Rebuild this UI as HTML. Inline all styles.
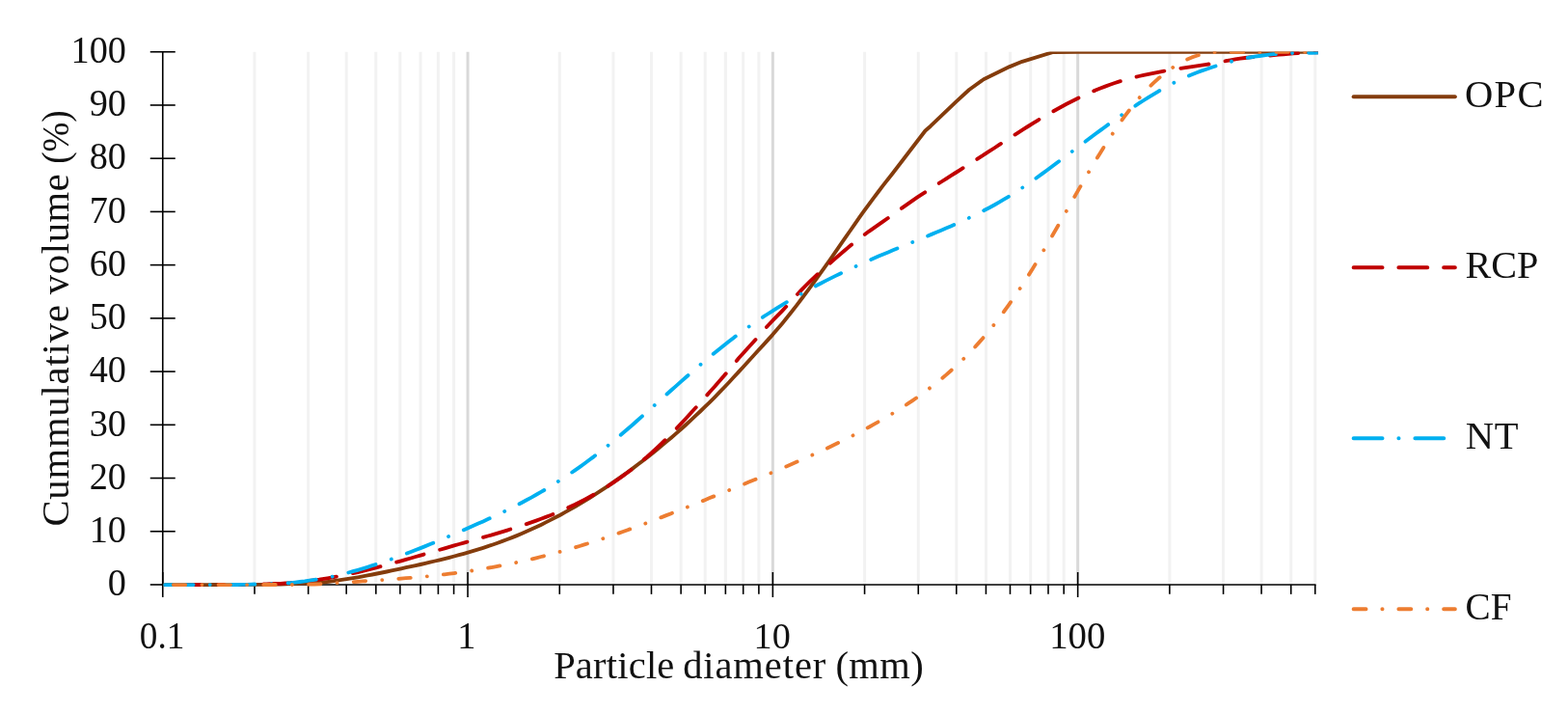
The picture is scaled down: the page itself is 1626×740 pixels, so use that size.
<!DOCTYPE html>
<html lang="en"><head><meta charset="utf-8"><title>Particle size distribution</title>
<style>html,body{margin:0;padding:0;background:#fff}body{width:1626px;height:740px;overflow:hidden}svg{display:block}</style>
</head><body>
<svg width="1626" height="740" viewBox="0 0 1626 740" role="img" aria-label="Cumulative particle size distribution of OPC, RCP, NT and CF">
<rect width="1626" height="740" fill="#fff"/>
<defs><clipPath id="plot"><rect x="168.9" y="53.4" width="1198" height="560"/></clipPath></defs>
<g stroke="#f2f2f2" stroke-width="3">
<line x1="263.98" y1="53.76" x2="263.98" y2="605.97"/>
<line x1="319.67" y1="53.76" x2="319.67" y2="605.97"/>
<line x1="359.19" y1="53.76" x2="359.19" y2="605.97"/>
<line x1="389.84" y1="53.76" x2="389.84" y2="605.97"/>
<line x1="414.89" y1="53.76" x2="414.89" y2="605.97"/>
<line x1="436.06" y1="53.76" x2="436.06" y2="605.97"/>
<line x1="454.41" y1="53.76" x2="454.41" y2="605.97"/>
<line x1="470.59" y1="53.76" x2="470.59" y2="605.97"/>
<line x1="580.28" y1="53.76" x2="580.28" y2="605.97"/>
<line x1="635.97" y1="53.76" x2="635.97" y2="605.97"/>
<line x1="675.49" y1="53.76" x2="675.49" y2="605.97"/>
<line x1="706.14" y1="53.76" x2="706.14" y2="605.97"/>
<line x1="731.19" y1="53.76" x2="731.19" y2="605.97"/>
<line x1="752.36" y1="53.76" x2="752.36" y2="605.97"/>
<line x1="770.71" y1="53.76" x2="770.71" y2="605.97"/>
<line x1="786.89" y1="53.76" x2="786.89" y2="605.97"/>
<line x1="896.58" y1="53.76" x2="896.58" y2="605.97"/>
<line x1="952.27" y1="53.76" x2="952.27" y2="605.97"/>
<line x1="991.79" y1="53.76" x2="991.79" y2="605.97"/>
<line x1="1022.44" y1="53.76" x2="1022.44" y2="605.97"/>
<line x1="1047.49" y1="53.76" x2="1047.49" y2="605.97"/>
<line x1="1068.66" y1="53.76" x2="1068.66" y2="605.97"/>
<line x1="1087.01" y1="53.76" x2="1087.01" y2="605.97"/>
<line x1="1103.19" y1="53.76" x2="1103.19" y2="605.97"/>
<line x1="1212.88" y1="53.76" x2="1212.88" y2="605.97"/>
<line x1="1268.57" y1="53.76" x2="1268.57" y2="605.97"/>
<line x1="1308.09" y1="53.76" x2="1308.09" y2="605.97"/>
<line x1="1338.74" y1="53.76" x2="1338.74" y2="605.97"/>
<line x1="1363.79" y1="53.76" x2="1363.79" y2="605.97"/>
</g>
<g stroke="#d9d9d9" stroke-width="3">
<line x1="485.06" y1="53.76" x2="485.06" y2="605.97"/>
<line x1="801.36" y1="53.76" x2="801.36" y2="605.97"/>
<line x1="1117.66" y1="53.76" x2="1117.66" y2="605.97"/>
</g>
<g stroke="#000" stroke-width="1.6" fill="none">
<line x1="168.76" y1="53.01" x2="168.76" y2="606.72"/>
<line x1="168.01" y1="605.97" x2="1364.54" y2="605.97"/>
<line x1="155.76" y1="605.97" x2="181.76" y2="605.97"/>
<line x1="155.76" y1="550.75" x2="181.76" y2="550.75"/>
<line x1="155.76" y1="495.53" x2="181.76" y2="495.53"/>
<line x1="155.76" y1="440.31" x2="181.76" y2="440.31"/>
<line x1="155.76" y1="385.09" x2="181.76" y2="385.09"/>
<line x1="155.76" y1="329.87" x2="181.76" y2="329.87"/>
<line x1="155.76" y1="274.64" x2="181.76" y2="274.64"/>
<line x1="155.76" y1="219.42" x2="181.76" y2="219.42"/>
<line x1="155.76" y1="164.20" x2="181.76" y2="164.20"/>
<line x1="155.76" y1="108.98" x2="181.76" y2="108.98"/>
<line x1="155.76" y1="53.76" x2="181.76" y2="53.76"/>
<line x1="168.76" y1="592.97" x2="168.76" y2="618.97"/>
<line x1="263.98" y1="605.97" x2="263.98" y2="615.87"/>
<line x1="319.67" y1="605.97" x2="319.67" y2="615.87"/>
<line x1="359.19" y1="605.97" x2="359.19" y2="615.87"/>
<line x1="389.84" y1="605.97" x2="389.84" y2="615.87"/>
<line x1="414.89" y1="605.97" x2="414.89" y2="615.87"/>
<line x1="436.06" y1="605.97" x2="436.06" y2="615.87"/>
<line x1="454.41" y1="605.97" x2="454.41" y2="615.87"/>
<line x1="470.59" y1="605.97" x2="470.59" y2="615.87"/>
<line x1="485.06" y1="592.97" x2="485.06" y2="618.97"/>
<line x1="580.28" y1="605.97" x2="580.28" y2="615.87"/>
<line x1="635.97" y1="605.97" x2="635.97" y2="615.87"/>
<line x1="675.49" y1="605.97" x2="675.49" y2="615.87"/>
<line x1="706.14" y1="605.97" x2="706.14" y2="615.87"/>
<line x1="731.19" y1="605.97" x2="731.19" y2="615.87"/>
<line x1="752.36" y1="605.97" x2="752.36" y2="615.87"/>
<line x1="770.71" y1="605.97" x2="770.71" y2="615.87"/>
<line x1="786.89" y1="605.97" x2="786.89" y2="615.87"/>
<line x1="801.36" y1="592.97" x2="801.36" y2="618.97"/>
<line x1="896.58" y1="605.97" x2="896.58" y2="615.87"/>
<line x1="952.27" y1="605.97" x2="952.27" y2="615.87"/>
<line x1="991.79" y1="605.97" x2="991.79" y2="615.87"/>
<line x1="1022.44" y1="605.97" x2="1022.44" y2="615.87"/>
<line x1="1047.49" y1="605.97" x2="1047.49" y2="615.87"/>
<line x1="1068.66" y1="605.97" x2="1068.66" y2="615.87"/>
<line x1="1087.01" y1="605.97" x2="1087.01" y2="615.87"/>
<line x1="1103.19" y1="605.97" x2="1103.19" y2="615.87"/>
<line x1="1117.66" y1="592.97" x2="1117.66" y2="618.97"/>
<line x1="1212.88" y1="605.97" x2="1212.88" y2="615.87"/>
<line x1="1268.57" y1="605.97" x2="1268.57" y2="615.87"/>
<line x1="1308.09" y1="605.97" x2="1308.09" y2="615.87"/>
<line x1="1338.74" y1="605.97" x2="1338.74" y2="615.87"/>
<line x1="1363.79" y1="605.97" x2="1363.79" y2="615.87"/>
</g>
<g clip-path="url(#plot)" fill="none" stroke-linecap="round" stroke-linejoin="round" stroke-width="3.85">
<path d="M171.0,606.1 L176.0,606.1 L181.0,606.1 L186.0,606.1 L191.0,606.1 L196.0,606.1 L201.0,606.1 L206.0,606.1 L211.0,606.1 L216.0,606.1 L221.0,606.0 L226.0,606.0 L231.0,606.0 L236.0,606.0 L241.0,606.0 L246.0,606.0 L251.0,606.0 L256.0,605.9 L261.0,605.9 L266.0,605.9 L271.0,605.8 L276.0,605.8 L281.0,605.7 L286.0,605.6 L291.0,605.5 L296.0,605.3 L301.0,605.2 L306.0,605.0 L311.0,604.8 L316.0,604.7 L321.0,604.5 L326.0,604.2 L331.0,603.8 L336.0,603.4 L341.0,602.8 L346.0,602.1 L351.0,601.4 L356.0,600.7 L361.0,599.9 L366.0,599.1 L371.0,598.3 L376.0,597.4 L381.0,596.4 L386.0,595.5 L391.0,594.5 L396.0,593.5 L401.0,592.5 L406.0,591.4 L411.0,590.4 L416.0,589.3 L421.0,588.2 L426.0,587.2 L431.0,586.1 L436.0,585.0 L441.0,583.8 L446.0,582.7 L451.0,581.5 L456.0,580.3 L461.0,579.1 L466.0,577.8 L471.0,576.5 L476.0,575.2 L481.0,573.8 L486.0,572.4 L491.0,570.9 L496.0,569.4 L501.0,567.8 L506.0,566.2 L511.0,564.5 L516.0,562.7 L521.0,560.9 L526.0,559.0 L531.0,557.1 L536.0,555.1 L541.0,553.0 L546.0,550.8 L551.0,548.6 L556.0,546.3 L561.0,543.9 L566.0,541.4 L571.0,538.9 L576.0,536.3 L581.0,533.7 L586.0,530.9 L591.0,528.1 L596.0,525.3 L601.0,522.3 L606.0,519.3 L611.0,516.3 L616.0,513.1 L621.0,509.9 L626.0,506.6 L631.0,503.3 L636.0,499.9 L641.0,496.4 L646.0,492.9 L651.0,489.3 L656.0,485.6 L661.0,481.8 L666.0,478.0 L671.0,474.2 L676.0,470.2 L681.0,466.2 L686.0,462.1 L691.0,457.9 L696.0,453.7 L701.0,449.4 L706.0,445.0 L711.0,440.5 L716.0,435.9 L721.0,431.2 L726.0,426.5 L731.0,421.7 L736.0,416.8 L741.0,411.8 L746.0,406.7 L751.0,401.5 L756.0,396.2 L761.0,390.8 L766.0,385.4 L771.0,380.0 L776.0,374.5 L781.0,369.0 L786.0,363.5 L791.0,358.1 L796.0,352.6 L801.0,347.1 L806.0,341.3 L811.0,335.4 L816.0,329.3 L821.0,323.0 L826.0,316.6 L831.0,310.0 L836.0,303.4 L841.0,296.7 L846.0,289.8 L851.0,282.9 L856.0,275.9 L861.0,268.8 L866.0,261.6 L871.0,254.4 L876.0,247.2 L881.0,240.0 L886.0,232.8 L891.0,225.7 L896.0,218.7 L901.0,211.8 L906.0,205.1 L911.0,198.5 L916.0,191.9 L925.4,180.0 L959.5,135.5 L965.0,130.7 L991.5,105.3 L1005.0,93.0 L1020.0,82.3 L1047.0,69.1 L1060.0,63.8 L1092.2,54.0 L1117.6,53.8 L1370.0,53.8" stroke="#843c0c"/>
<path d="M171.0,606.1 L176.0,606.1 L181.0,606.1 L186.0,606.1 L191.0,606.1 L196.0,606.1 L201.0,606.1 L206.0,606.1 L211.0,606.1 L216.0,606.1 L221.0,606.0 L226.0,606.0 L231.0,606.0 L236.0,606.0 L241.0,606.0 L246.0,606.0 L251.0,605.9 L256.0,605.8 L261.0,605.7 L266.0,605.6 L271.0,605.5 L276.0,605.4 L281.0,605.2 L286.0,605.0 L291.0,604.8 L296.0,604.5 L301.0,604.2 L306.0,603.7 L311.0,603.2 L316.0,602.6 L321.0,602.0 L326.0,601.3 L331.0,600.7 L336.0,599.9 L341.0,599.1 L346.0,598.2 L351.0,597.2 L356.0,596.3 L361.0,595.2 L366.0,594.1 L371.0,593.0 L376.0,591.8 L381.0,590.6 L386.0,589.4 L391.0,588.1 L396.0,586.8 L401.0,585.5 L406.0,584.1 L411.0,582.7 L416.0,581.3 L421.0,579.9 L426.0,578.5 L431.0,577.0 L436.0,575.6 L441.0,574.1 L446.0,572.7 L451.0,571.2 L456.0,569.8 L461.0,568.3 L466.0,566.9 L471.0,565.4 L476.0,564.0 L481.0,562.6 L486.0,561.2 L491.0,559.8 L496.0,558.4 L501.0,556.9 L506.0,555.5 L511.0,554.1 L516.0,552.6 L521.0,551.1 L526.0,549.6 L531.0,548.0 L536.0,546.4 L541.0,544.8 L546.0,543.1 L551.0,541.4 L556.0,539.6 L561.0,537.8 L566.0,535.9 L571.0,534.0 L576.0,531.9 L581.0,529.8 L586.0,527.6 L591.0,525.3 L596.0,523.0 L601.0,520.5 L606.0,517.9 L611.0,515.2 L616.0,512.4 L621.0,509.5 L626.0,506.5 L631.0,503.4 L636.0,500.1 L641.0,496.7 L646.0,493.1 L651.0,489.5 L656.0,485.7 L661.0,481.7 L666.0,477.6 L671.0,473.4 L676.0,469.0 L681.0,464.4 L686.0,459.7 L691.0,454.8 L696.0,449.8 L701.0,444.6 L706.0,439.4 L711.0,434.0 L716.0,428.5 L721.0,423.0 L726.0,417.5 L731.0,411.9 L736.0,406.3 L741.0,400.8 L746.0,395.1 L751.0,389.3 L756.0,383.2 L761.0,377.2 L766.0,371.3 L771.0,365.7 L776.0,360.3 L781.0,354.8 L786.0,349.2 L791.0,343.4 L796.0,337.8 L801.0,332.5 L806.0,327.4 L811.0,322.3 L816.0,317.0 L821.0,311.5 L826.0,305.9 L831.0,300.6 L836.0,295.5 L841.0,290.6 L846.0,285.9 L851.0,281.4 L856.0,276.9 L861.0,272.5 L866.0,268.1 L871.0,263.8 L876.0,259.5 L881.0,255.3 L886.0,251.2 L891.0,247.3 L896.0,243.5 L901.0,239.8 L906.0,236.3 L911.0,232.8 L916.0,229.4 L921.0,225.9 L926.0,222.3 L931.0,218.7 L936.0,215.1 L941.0,211.6 L946.0,208.1 L951.0,204.7 L956.0,201.4 L961.0,198.1 L966.0,194.9 L971.0,191.7 L976.0,188.5 L981.0,185.3 L986.0,182.1 L991.0,179.0 L996.0,175.8 L1001.0,172.7 L1006.0,169.5 L1011.0,166.4 L1016.0,163.2 L1021.0,159.9 L1026.0,156.7 L1031.0,153.5 L1036.0,150.2 L1041.0,147.0 L1046.0,143.7 L1051.0,140.5 L1056.0,137.3 L1061.0,134.1 L1066.0,131.0 L1071.0,127.9 L1076.0,124.8 L1081.0,121.8 L1086.0,118.9 L1091.0,116.0 L1096.0,113.2 L1101.0,110.5 L1106.0,107.8 L1111.0,105.2 L1116.0,102.7 L1121.0,100.3 L1126.0,98.0 L1131.0,95.7 L1136.0,93.6 L1141.0,91.5 L1146.0,89.6 L1151.0,87.7 L1156.0,86.0 L1161.0,84.4 L1166.0,82.9 L1171.0,81.5 L1176.0,80.2 L1181.0,79.0 L1186.0,77.8 L1191.0,76.8 L1196.0,75.8 L1201.0,74.8 L1206.0,73.9 L1211.0,73.0 L1216.0,72.2 L1221.0,71.3 L1226.0,70.6 L1231.0,69.8 L1236.0,69.1 L1241.0,68.4 L1246.0,67.7 L1251.0,66.9 L1256.0,66.1 L1261.0,65.1 L1266.0,64.1 L1271.0,63.2 L1276.0,62.3 L1281.0,61.4 L1286.0,60.6 L1291.0,60.0 L1296.0,59.4 L1301.0,58.9 L1306.0,58.4 L1311.0,58.0 L1316.0,57.6 L1321.0,57.2 L1326.0,56.7 L1331.0,56.3 L1336.0,55.8 L1341.0,55.4 L1346.0,55.1 L1351.0,54.9 L1356.0,54.7 L1361.0,54.5 L1366.0,54.4" stroke="#c00000" stroke-dasharray="29.45 17.30" stroke-dashoffset="-8.75"/>
<path d="M171.0,606.1 L176.0,606.1 L181.0,606.1 L186.0,606.1 L191.0,606.1 L196.0,606.1 L201.0,606.1 L206.0,606.1 L211.0,606.1 L216.0,606.1 L221.0,606.0 L226.0,606.0 L231.0,606.0 L236.0,606.0 L241.0,606.0 L246.0,606.0 L251.0,605.9 L256.0,605.8 L261.0,605.6 L266.0,605.5 L271.0,605.4 L276.0,605.3 L281.0,605.1 L286.0,604.9 L291.0,604.7 L296.0,604.5 L301.0,604.1 L306.0,603.6 L311.0,603.0 L316.0,602.4 L321.0,601.6 L326.0,600.9 L331.0,600.2 L336.0,599.4 L341.0,598.4 L346.0,597.3 L351.0,596.1 L356.0,594.9 L361.0,593.6 L366.0,592.2 L371.0,590.8 L376.0,589.3 L381.0,587.8 L386.0,586.2 L391.0,584.6 L396.0,582.9 L401.0,581.2 L406.0,579.4 L411.0,577.6 L416.0,575.8 L421.0,573.9 L426.0,572.0 L431.0,570.0 L436.0,568.1 L441.0,566.1 L446.0,564.0 L451.0,562.0 L456.0,559.9 L461.0,557.8 L466.0,555.7 L471.0,553.5 L476.0,551.4 L481.0,549.2 L486.0,547.0 L491.0,544.8 L496.0,542.6 L501.0,540.4 L506.0,538.1 L511.0,535.8 L516.0,533.4 L521.0,531.0 L526.0,528.6 L531.0,526.1 L536.0,523.6 L541.0,521.0 L546.0,518.3 L551.0,515.6 L556.0,512.8 L561.0,509.9 L566.0,507.0 L571.0,503.9 L576.0,500.8 L581.0,497.6 L586.0,494.4 L591.0,491.0 L596.0,487.6 L601.0,484.1 L606.0,480.5 L611.0,476.8 L616.0,473.1 L621.0,469.2 L626.0,465.3 L631.0,461.3 L636.0,457.2 L641.0,453.0 L646.0,448.8 L651.0,444.5 L656.0,440.2 L661.0,435.8 L666.0,431.3 L671.0,426.9 L676.0,422.4 L681.0,417.9 L686.0,413.5 L691.0,409.0 L696.0,404.5 L701.0,400.1 L706.0,395.6 L711.0,391.2 L716.0,386.9 L721.0,382.5 L726.0,378.3 L731.0,374.0 L736.0,369.8 L741.0,365.7 L746.0,361.7 L751.0,357.7 L756.0,353.8 L761.0,349.9 L766.0,346.2 L771.0,342.5 L776.0,339.0 L781.0,335.5 L786.0,332.1 L791.0,328.7 L796.0,325.5 L801.0,322.3 L806.0,319.2 L811.0,316.1 L816.0,313.1 L821.0,310.2 L826.0,307.3 L831.0,304.5 L836.0,301.7 L841.0,299.0 L846.0,296.3 L851.0,293.7 L856.0,291.1 L861.0,288.6 L866.0,286.1 L871.0,283.7 L876.0,281.3 L881.0,279.0 L886.0,276.6 L891.0,274.4 L896.0,272.1 L901.0,269.9 L906.0,267.8 L911.0,265.6 L916.0,263.5 L921.0,261.4 L926.0,259.3 L931.0,257.3 L936.0,255.2 L941.0,253.1 L946.0,251.1 L951.0,249.1 L956.0,247.0 L961.0,244.9 L966.0,242.9 L971.0,240.8 L976.0,238.7 L981.0,236.6 L986.0,234.4 L991.0,232.2 L996.0,230.0 L1001.0,227.7 L1006.0,225.3 L1011.0,222.9 L1016.0,220.4 L1021.0,217.8 L1026.0,215.2 L1031.0,212.5 L1036.0,209.6 L1041.0,206.7 L1046.0,203.7 L1051.0,200.6 L1056.0,197.3 L1061.0,194.0 L1066.0,190.6 L1071.0,187.1 L1076.0,183.5 L1081.0,179.9 L1086.0,176.2 L1091.0,172.5 L1096.0,168.8 L1101.0,165.1 L1106.0,161.3 L1111.0,157.5 L1116.0,153.8 L1121.0,150.0 L1126.0,146.3 L1131.0,142.5 L1136.0,138.8 L1141.0,135.1 L1146.0,131.5 L1151.0,127.8 L1156.0,124.3 L1161.0,120.7 L1166.0,117.2 L1171.0,113.8 L1176.0,110.5 L1181.0,107.2 L1186.0,104.0 L1191.0,100.8 L1196.0,97.8 L1201.0,94.8 L1206.0,91.9 L1211.0,89.2 L1216.0,86.5 L1221.0,83.9 L1226.0,81.5 L1231.0,79.3 L1236.0,77.2 L1241.0,75.2 L1246.0,73.4 L1251.0,71.7 L1256.0,70.0 L1261.0,68.4 L1266.0,66.8 L1271.0,65.4 L1276.0,64.0 L1281.0,62.7 L1286.0,61.5 L1291.0,60.4 L1296.0,59.5 L1301.0,58.7 L1306.0,58.0 L1311.0,57.3 L1316.0,56.7 L1321.0,56.2 L1326.0,55.8 L1331.0,55.4 L1336.0,55.2 L1341.0,55.0 L1346.0,54.9 L1351.0,54.8 L1356.0,54.8 L1361.0,54.8 L1366.0,54.7" stroke="#00b0f0" stroke-dasharray="29.45 17.15 0.01 17.14" stroke-dashoffset="-0.15"/>
<path d="M171.0,606.1 L176.0,606.1 L181.0,606.1 L186.0,606.1 L191.0,606.1 L196.0,606.1 L201.0,606.1 L206.0,606.1 L211.0,606.1 L216.0,606.1 L221.0,606.1 L226.0,606.1 L231.0,606.1 L236.0,606.1 L241.0,606.1 L246.0,606.1 L251.0,606.1 L256.0,606.1 L261.0,606.1 L266.0,606.1 L271.0,606.0 L276.0,606.0 L281.0,606.0 L286.0,606.0 L291.0,606.0 L296.0,606.0 L301.0,606.0 L306.0,606.0 L311.0,605.9 L316.0,605.8 L321.0,605.7 L326.0,605.5 L331.0,605.3 L336.0,605.0 L341.0,604.6 L346.0,604.3 L351.0,604.0 L356.0,603.7 L361.0,603.4 L366.0,603.1 L371.0,602.8 L376.0,602.4 L381.0,602.1 L386.0,601.8 L391.0,601.4 L396.0,601.1 L401.0,600.7 L406.0,600.4 L411.0,600.0 L416.0,599.6 L421.0,599.2 L426.0,598.8 L431.0,598.4 L436.0,597.9 L441.0,597.5 L446.0,597.0 L451.0,596.5 L456.0,595.9 L461.0,595.3 L466.0,594.7 L471.0,594.1 L476.0,593.4 L481.0,592.7 L486.0,592.0 L491.0,591.2 L496.0,590.4 L501.0,589.6 L506.0,588.7 L511.0,587.8 L516.0,586.9 L521.0,585.9 L526.0,584.9 L531.0,583.9 L536.0,582.9 L541.0,581.8 L546.0,580.6 L551.0,579.5 L556.0,578.3 L561.0,577.0 L566.0,575.8 L571.0,574.5 L576.0,573.1 L581.0,571.8 L586.0,570.4 L591.0,568.9 L596.0,567.5 L601.0,566.0 L606.0,564.4 L611.0,562.9 L616.0,561.3 L621.0,559.6 L626.0,558.0 L631.0,556.3 L636.0,554.6 L641.0,552.8 L646.0,551.0 L651.0,549.2 L656.0,547.4 L661.0,545.6 L666.0,543.7 L671.0,541.8 L676.0,539.9 L681.0,538.0 L686.0,536.1 L691.0,534.1 L696.0,532.2 L701.0,530.2 L706.0,528.2 L711.0,526.2 L716.0,524.2 L721.0,522.2 L726.0,520.2 L731.0,518.2 L736.0,516.1 L741.0,514.1 L746.0,512.0 L751.0,510.0 L756.0,508.0 L761.0,505.9 L766.0,503.9 L771.0,501.9 L776.0,499.8 L781.0,497.8 L786.0,495.7 L791.0,493.7 L796.0,491.6 L801.0,489.5 L806.0,487.4 L811.0,485.3 L816.0,483.2 L821.0,481.0 L826.0,478.8 L831.0,476.6 L836.0,474.4 L841.0,472.2 L846.0,469.9 L851.0,467.6 L856.0,465.3 L861.0,462.9 L866.0,460.5 L871.0,458.1 L876.0,455.7 L881.0,453.2 L886.0,450.6 L891.0,448.0 L896.0,445.4 L901.0,442.7 L906.0,439.9 L911.0,437.1 L916.0,434.3 L921.0,431.3 L926.0,428.3 L931.0,425.2 L936.0,422.0 L941.0,418.7 L946.0,415.3 L951.0,411.9 L956.0,408.3 L961.0,404.6 L966.0,400.8 L971.0,396.8 L976.0,392.8 L981.0,388.6 L986.0,384.2 L991.0,379.7 L996.0,375.0 L1001.0,370.1 L1006.0,365.0 L1011.0,359.7 L1016.0,354.1 L1021.0,348.4 L1026.0,342.4 L1031.0,336.2 L1036.0,329.7 L1041.0,323.0 L1046.0,316.1 L1051.0,309.0 L1056.0,301.6 L1061.0,294.0 L1066.0,286.2 L1071.0,278.2 L1076.0,270.0 L1081.0,261.7 L1086.0,253.2 L1091.0,244.7 L1096.0,236.0 L1101.0,227.2 L1106.0,218.5 L1111.0,209.7 L1116.0,200.9 L1121.0,192.2 L1126.0,183.5 L1131.0,175.0 L1136.0,166.6 L1141.0,158.4 L1146.0,150.4 L1151.0,142.7 L1156.0,135.2 L1161.0,127.9 L1166.0,120.9 L1171.0,114.3 L1176.0,107.9 L1181.0,101.9 L1186.0,96.3 L1191.0,91.1 L1196.0,86.2 L1201.0,81.6 L1206.0,77.5 L1211.0,73.6 L1216.0,70.1 L1221.0,66.9 L1226.0,64.1 L1231.0,61.5 L1236.0,59.4 L1241.0,57.7 L1246.0,56.2 L1251.0,55.0 L1256.0,54.2 L1261.0,54.0 L1266.0,53.9 L1271.0,53.8 L1276.0,53.8 L1281.0,53.8 L1286.0,53.8 L1291.0,53.8 L1296.0,53.8 L1301.0,53.8 L1306.0,53.8 L1311.0,53.8 L1316.0,53.8 L1321.0,53.8 L1326.0,53.8 L1331.0,53.8 L1336.0,53.8 L1341.0,53.8 L1346.0,53.8 L1351.0,53.8 L1356.0,53.8 L1361.0,53.8 L1366.0,53.8" stroke="#ed7d31" stroke-dasharray="12.45 17.15 0.01 17.14" stroke-dashoffset="-8.8"/>
</g>
<g font-family='"Liberation Serif", serif' font-size="39" fill="#111" style="font-kerning:none">
<text transform="translate(111.75,617.17) scale(0.9800,1)">0</text>
<text transform="translate(92.64,561.95) scale(0.9800,1)">10</text>
<text transform="translate(92.64,506.73) scale(0.9800,1)">20</text>
<text transform="translate(92.64,451.51) scale(0.9800,1)">30</text>
<text transform="translate(92.64,396.29) scale(0.9800,1)">40</text>
<text transform="translate(92.64,341.06) scale(0.9800,1)">50</text>
<text transform="translate(92.64,285.84) scale(0.9800,1)">60</text>
<text transform="translate(92.64,230.62) scale(0.9800,1)">70</text>
<text transform="translate(92.64,175.40) scale(0.9800,1)">80</text>
<text transform="translate(92.64,120.18) scale(0.9800,1)">90</text>
<text transform="translate(73.53,64.96) scale(0.9800,1)">100</text>
<text transform="translate(144.78,671.90) scale(0.9550,1)">0.1</text>
<text transform="translate(474.33,671.90) scale(0.9832,1)">1</text>
<text transform="translate(781.54,671.90) scale(0.9798,1)">10</text>
<text transform="translate(1088.19,671.90) scale(0.9946,1)">100</text>
<text transform="translate(574.13,702.80) scale(1.0400,1)" letter-spacing="0.192">Particle</text>
<text transform="translate(708.13,702.80) scale(1.0400,1)" letter-spacing="0.871">diameter</text>
<text transform="translate(866.52,702.80) scale(1.0400,1)" letter-spacing="0.338">(mm)</text>
<text transform="translate(71.35,545.56) rotate(-90) scale(1.0400,1)" letter-spacing="0.843">Cummulative</text>
<text transform="translate(71.35,305.30) rotate(-90) scale(1.0400,1)" letter-spacing="0.682">volume</text>
<text transform="translate(71.35,169.83) rotate(-90) scale(0.9503,1)">(%)</text>
<text transform="translate(1519.04,110.60) scale(1.0400,1)" letter-spacing="1.250">OPC</text>
<text transform="translate(1519.54,287.60) scale(1.0305,1)">RCP</text>
<text transform="translate(1519.73,464.60) scale(1.0400,1)" letter-spacing="0.649">NT</text>
<text transform="translate(1519.59,641.70) scale(1.0046,1)">CF</text>
</g>
<g fill="none" stroke-linecap="round" stroke-width="4.10">
<line x1="1403.7" y1="100.2" x2="1508.8" y2="100.2" stroke="#843c0c"/>
<line x1="1403.7" y1="277.2" x2="1508.8" y2="277.2" stroke="#c00000" stroke-dasharray="29.75 17.00"/>
<line x1="1403.7" y1="454.2" x2="1508.8" y2="454.2" stroke="#00b0f0" stroke-dasharray="29.75 17.00 0.01 17.00"/>
<line x1="1403.7" y1="631.3" x2="1508.8" y2="631.3" stroke="#ed7d31" stroke-dasharray="12.75 17.00 0.01 17.00"/>
</g>
</svg>
</body></html>
